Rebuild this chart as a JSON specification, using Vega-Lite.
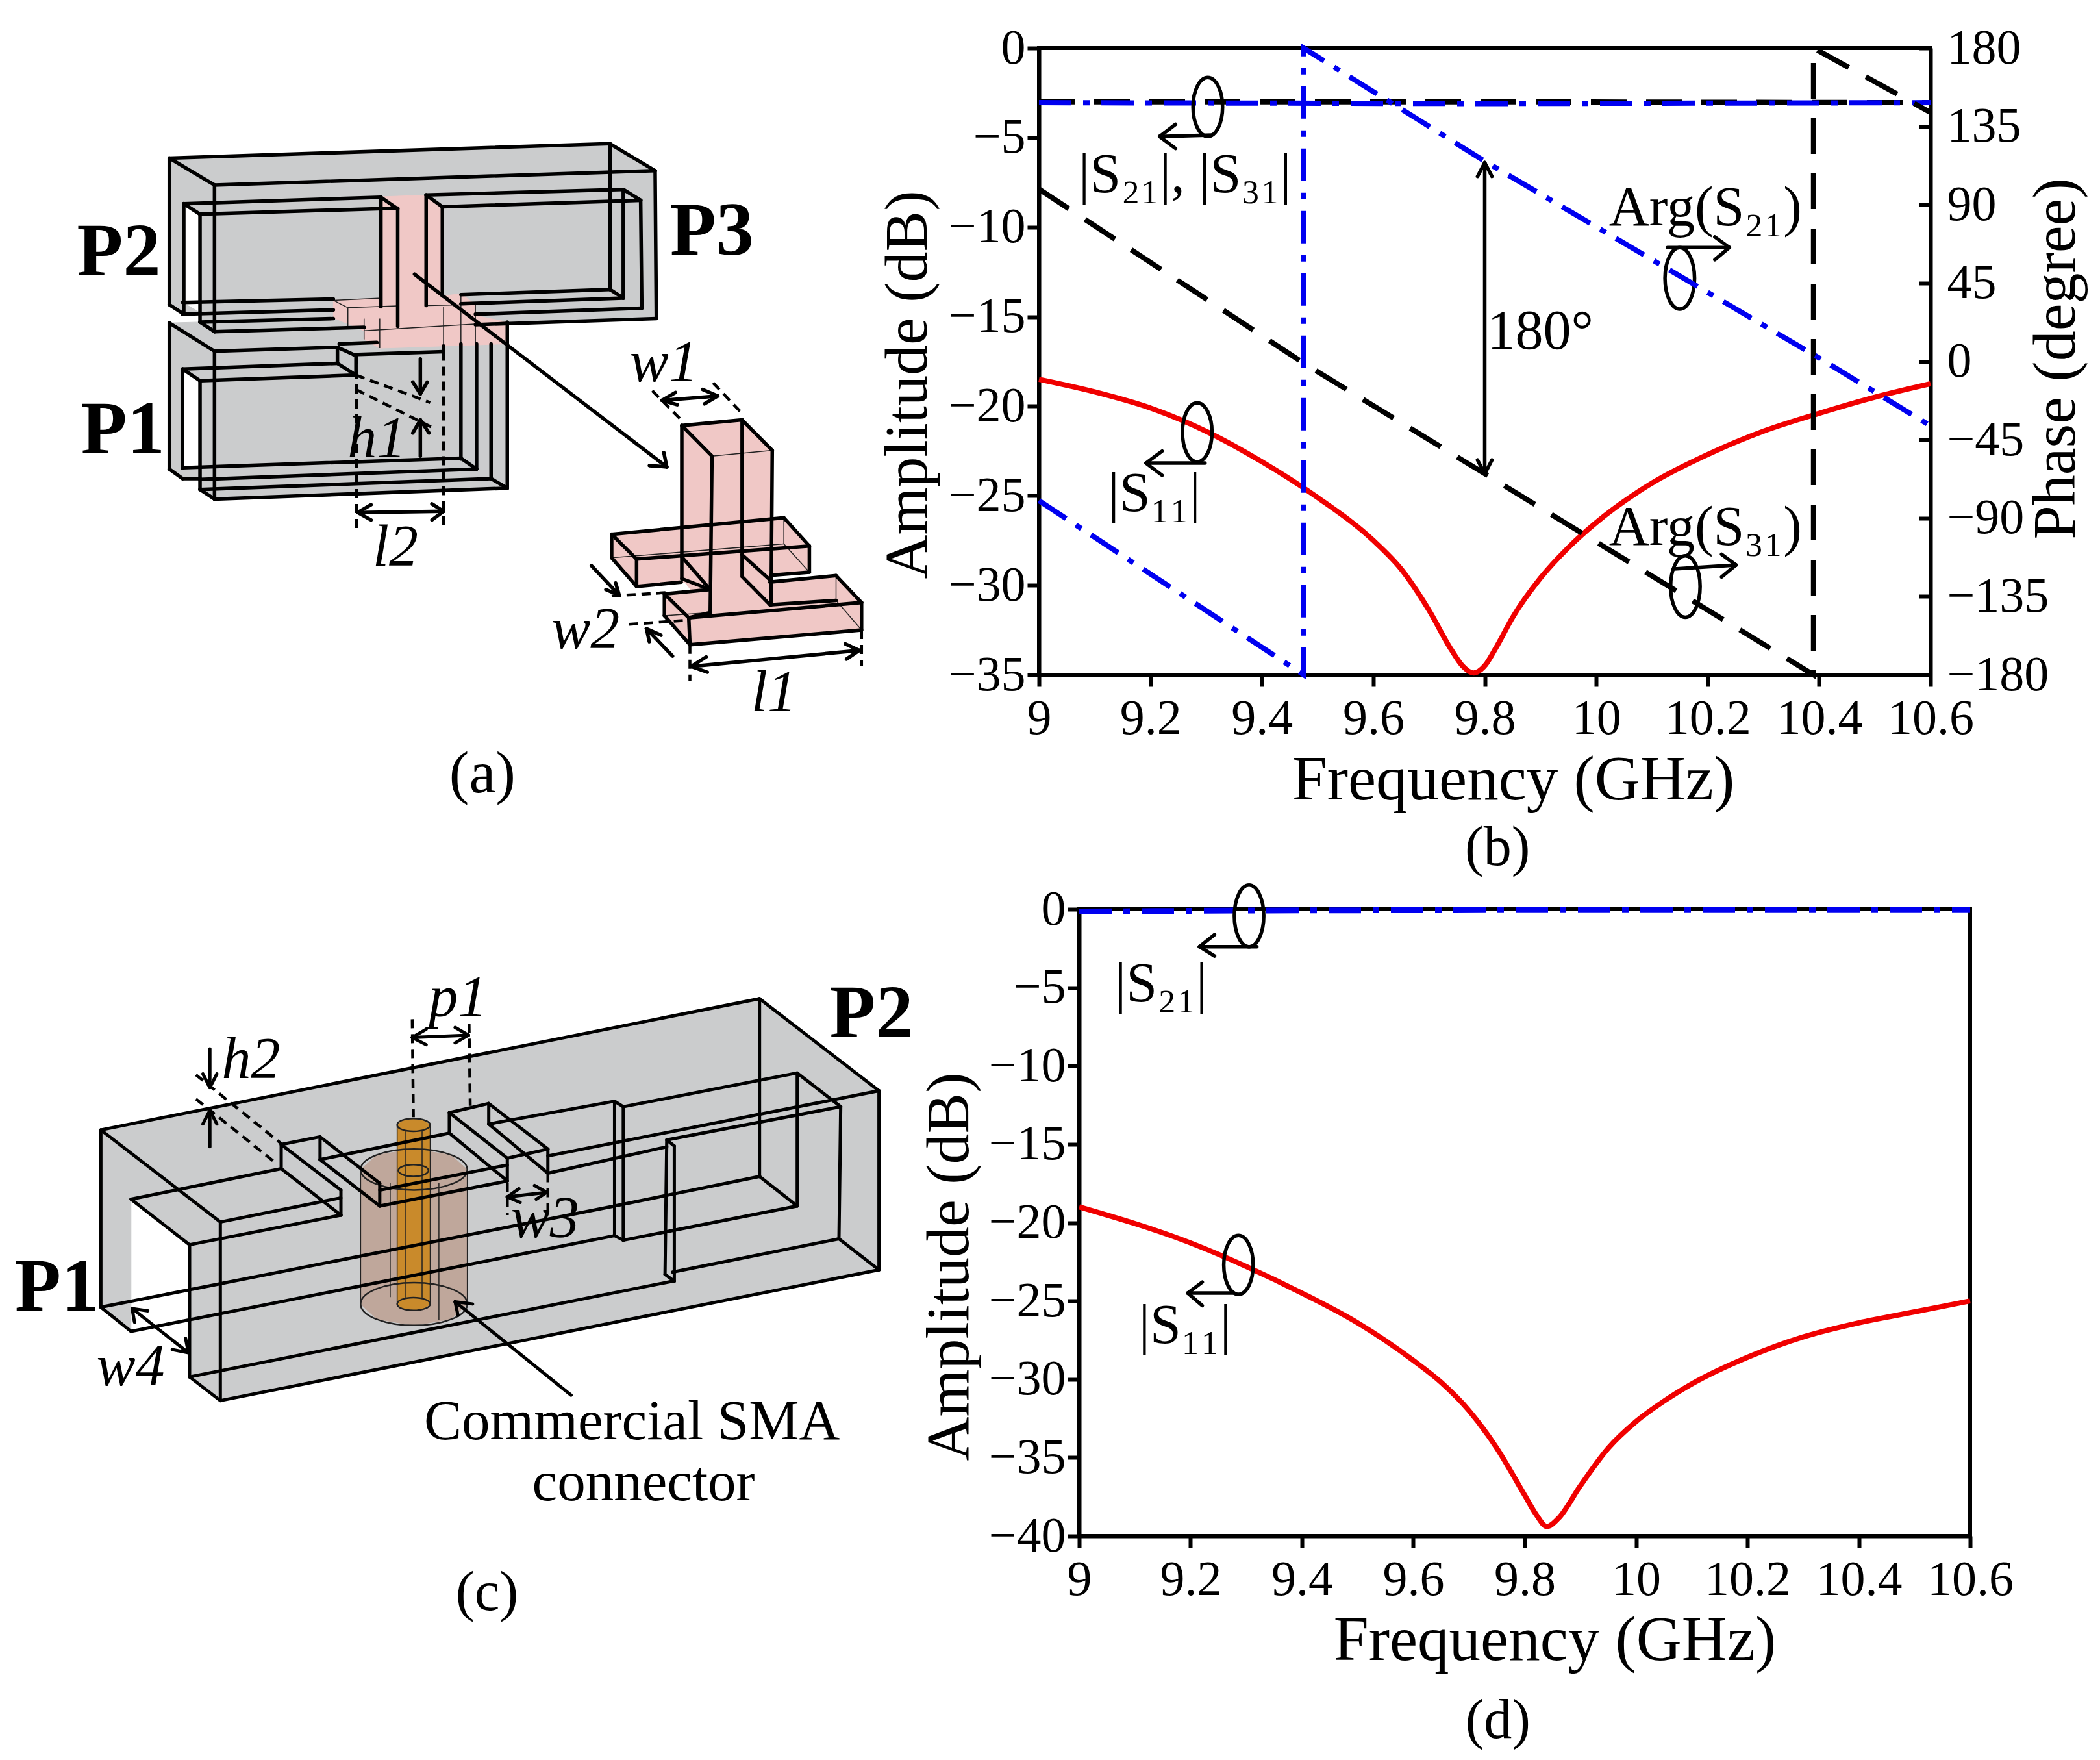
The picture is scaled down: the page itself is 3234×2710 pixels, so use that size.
{"$schema":"https://vega.github.io/schema/vega-lite/v6.json","background":"white","padding":{"left":0,"top":33,"right":0,"bottom":0},"bounds":"flush","spacing":1326,
"config":{"view":{"stroke":null},"font":"Liberation Serif","line":{"clip":false},"axis":{"grid":false,"domainColor":"black","domainWidth":6,"tickColor":"black","tickWidth":6,"labelColor":"black","titleColor":"black","labelFont":"Liberation Serif","titleFont":"Liberation Serif","titleFontWeight":"normal","labelOverlap":false,"labelFlush":false,"labelBound":false}},
"vconcat":[
{"bounds":"flush","spacing":100,"hconcat":[
{"width":1500,"height":965,"encoding":{"x":{"type":"quantitative","scale":{"domain":[0,1680],"nice":false,"zero":false},"axis":null},"y":{"type":"quantitative","scale":{"domain":[1281,-160],"nice":false,"zero":false},"axis":null}},
"layer":[
{"data":{"name":"a_gray"},"mark":{"type":"line","fill":"#cbcccd","stroke":"#cbcccd","strokeWidth":1},"encoding":{"x":{"field":"x","type":"quantitative"},"y":{"field":"y","type":"quantitative"},"detail":{"field":"id"},"order":{"field":"i"}}},
{"data":{"name":"a_white"},"mark":{"type":"line","fill":"white","stroke":"white","strokeWidth":1},"encoding":{"x":{"field":"x","type":"quantitative"},"y":{"field":"y","type":"quantitative"},"detail":{"field":"id"},"order":{"field":"i"}}},
{"data":{"name":"a_pink"},"mark":{"type":"line","fill":"#f0c8c6","stroke":"#f0c8c6","strokeWidth":1},"encoding":{"x":{"field":"x","type":"quantitative"},"y":{"field":"y","type":"quantitative"},"detail":{"field":"id"},"order":{"field":"i"}}},
{"data":{"name":"a_thin"},"mark":{"type":"rule","color":"#222","strokeWidth":1.5},"encoding":{"x":{"field":"x","type":"quantitative"},"y":{"field":"y","type":"quantitative"},"x2":{"field":"x2"},"y2":{"field":"y2"}}},
{"data":{"name":"a_thick"},"mark":{"type":"rule","color":"black","strokeWidth":5.5,"strokeCap":"round"},"encoding":{"x":{"field":"x","type":"quantitative"},"y":{"field":"y","type":"quantitative"},"x2":{"field":"x2"},"y2":{"field":"y2"}}},
{"data":{"name":"a_dash"},"mark":{"type":"rule","color":"black","strokeWidth":4.5,"strokeDash":[14,9]},"encoding":{"x":{"field":"x","type":"quantitative"},"y":{"field":"y","type":"quantitative"},"x2":{"field":"x2"},"y2":{"field":"y2"}}},
{"data":{"name":"a_bold"},"mark":{"type":"text","fontSize":116,"fontWeight":"bold","font":"Liberation Serif","baseline":"middle"},"encoding":{"x":{"field":"x","type":"quantitative"},"y":{"field":"y","type":"quantitative"},"text":{"field":"t"}}},
{"data":{"name":"a_italic"},"mark":{"type":"text","fontSize":90,"fontStyle":"italic","font":"Liberation Serif","baseline":"middle"},"encoding":{"x":{"field":"x","type":"quantitative"},"y":{"field":"y","type":"quantitative"},"text":{"field":"t"}}},
{"data":{"name":"a_plain"},"mark":{"type":"text","fontSize":92,"font":"Liberation Serif","baseline":"middle"},"encoding":{"x":{"field":"x","type":"quantitative"},"y":{"field":"y","type":"quantitative"},"text":{"field":"t"}}}
]},
{"width":1373,"height":965,"view":{"stroke":"black","strokeWidth":6},"resolve":{"scale":{"y":"independent"}},
"layer":[
{"encoding":{"x":{"type":"quantitative","scale":{"domain":[9,10.6],"nice":false,"zero":false},"axis":{"values":[9,9.2,9.4,9.6,9.8,10,10.2,10.4,10.6],"format":".1~f","labelFontSize":76,"labelPadding":12,"tickSize":18,"title":"Frequency (GHz)","titleFontSize":97,"titleX":730,"titleY":162,"titleBaseline":"middle"}},"y":{"type":"quantitative","scale":{"domain":[-35,0],"nice":false,"zero":false},"axis":{"values":[0,-5,-10,-15,-20,-25,-30,-35],"format":"d","labelFontSize":76,"labelPadding":3,"tickSize":18,"title":"Amplitude (dB)","titleFontSize":94,"titleX":-202,"titleY":518,"titleBaseline":"middle","titleAngle":270}}},
"layer":[
{"data":{"name":"s11b"},"mark":{"type":"line","color":"#f00000","strokeWidth":8,"interpolate":"monotone"},"encoding":{"x":{"field":"f","type":"quantitative"},"y":{"field":"dB","type":"quantitative"}}},
{"data":{"name":"s31b"},"mark":{"type":"line","color":"black","strokeWidth":8,"strokeDash":[55,30]},"encoding":{"x":{"field":"f","type":"quantitative"},"y":{"field":"dB","type":"quantitative"}}},
{"data":{"name":"s21b"},"mark":{"type":"line","color":"#0000f0","strokeWidth":8,"strokeDash":[50,18,10,18]},"encoding":{"x":{"field":"f","type":"quantitative"},"y":{"field":"dB","type":"quantitative"}}},
{"data":{"name":"b_rings"},"mark":{"type":"line","color":"black","strokeWidth":5.5,"interpolate":"cardinal-closed","tension":-0.65},"encoding":{"x":{"field":"f","type":"quantitative"},"y":{"field":"dB","type":"quantitative"},"detail":{"field":"id"},"order":{"field":"i"}}},
{"data":{"name":"b_arrows"},"mark":{"type":"rule","color":"black","strokeWidth":5.5,"strokeCap":"round"},"encoding":{"x":{"field":"f","type":"quantitative"},"y":{"field":"dB","type":"quantitative"},"x2":{"field":"f2"},"y2":{"field":"dB2"}}},
{"data":{"name":"b_text"},"mark":{"type":"text","fontSize":86,"font":"Liberation Serif","baseline":"middle"},"encoding":{"x":{"field":"f","type":"quantitative"},"y":{"field":"dB","type":"quantitative"},"text":{"field":"t"}}}
]},
{"encoding":{"x":{"type":"quantitative","scale":{"domain":[9,10.6],"nice":false,"zero":false}},"y":{"type":"quantitative","scale":{"domain":[-180,180],"nice":false,"zero":false},"axis":{"orient":"right","values":[180,135,90,45,0,-45,-90,-135,-180],"format":"d","labelFontSize":76,"labelPadding":43,"tickSize":-18,"title":"Phase (degree)","titleFontSize":94,"titleX":193,"titleY":478,"titleBaseline":"middle","titleAngle":270}}},
"layer":[
{"data":{"name":"arg31"},"mark":{"type":"line","color":"black","strokeWidth":8,"strokeDash":[55,30]},"encoding":{"x":{"field":"f","type":"quantitative"},"y":{"field":"deg","type":"quantitative"},"order":{"field":"i"}}},
{"data":{"name":"arg21"},"mark":{"type":"line","color":"#0000f0","strokeWidth":8,"strokeDash":[50,18,10,18]},"encoding":{"x":{"field":"f","type":"quantitative"},"y":{"field":"deg","type":"quantitative"},"order":{"field":"i"}}}
]}
]}
]},
{"bounds":"flush","spacing":100,"hconcat":[
{"width":1562,"height":965,"encoding":{"x":{"type":"quantitative","scale":{"domain":[0,1749.4],"nice":false,"zero":false},"axis":null},"y":{"type":"quantitative","scale":{"domain":[1374,-1.4],"nice":false,"zero":false},"axis":null}},
"layer":[
{"data":{"name":"c_gray"},"mark":{"type":"line","fill":"#cbcccd","stroke":"#cbcccd","strokeWidth":1},"encoding":{"x":{"field":"x","type":"quantitative"},"y":{"field":"y","type":"quantitative"},"detail":{"field":"id"},"order":{"field":"i"}}},
{"data":{"name":"c_brown"},"mark":{"type":"line","fill":"#bfa79b","stroke":"#bfa79b","strokeWidth":1},"encoding":{"x":{"field":"x","type":"quantitative"},"y":{"field":"y","type":"quantitative"},"detail":{"field":"id"},"order":{"field":"i"}}},
{"data":{"name":"c_orange"},"mark":{"type":"line","fill":"#c98a2b","stroke":"#c98a2b","strokeWidth":1},"encoding":{"x":{"field":"x","type":"quantitative"},"y":{"field":"y","type":"quantitative"},"detail":{"field":"id"},"order":{"field":"i"}}},
{"data":{"name":"c_thin"},"mark":{"type":"rule","color":"#222","strokeWidth":1.5},"encoding":{"x":{"field":"x","type":"quantitative"},"y":{"field":"y","type":"quantitative"},"x2":{"field":"x2"},"y2":{"field":"y2"}}},
{"data":{"name":"c_rings"},"mark":{"type":"line","color":"#222","strokeWidth":2.5,"interpolate":"cardinal-closed","tension":-0.65},"encoding":{"x":{"field":"x","type":"quantitative"},"y":{"field":"y","type":"quantitative"},"detail":{"field":"id"},"order":{"field":"i"}}},
{"data":{"name":"c_thick"},"mark":{"type":"rule","color":"black","strokeWidth":5,"strokeCap":"round"},"encoding":{"x":{"field":"x","type":"quantitative"},"y":{"field":"y","type":"quantitative"},"x2":{"field":"x2"},"y2":{"field":"y2"}}},
{"data":{"name":"c_dash"},"mark":{"type":"rule","color":"black","strokeWidth":4.5,"strokeDash":[14,9]},"encoding":{"x":{"field":"x","type":"quantitative"},"y":{"field":"y","type":"quantitative"},"x2":{"field":"x2"},"y2":{"field":"y2"}}},
{"data":{"name":"c_bold"},"mark":{"type":"text","fontSize":116,"fontWeight":"bold","font":"Liberation Serif","baseline":"middle"},"encoding":{"x":{"field":"x","type":"quantitative"},"y":{"field":"y","type":"quantitative"},"text":{"field":"t"}}},
{"data":{"name":"c_italic"},"mark":{"type":"text","fontSize":90,"fontStyle":"italic","font":"Liberation Serif","baseline":"middle"},"encoding":{"x":{"field":"x","type":"quantitative"},"y":{"field":"y","type":"quantitative"},"text":{"field":"t"}}},
{"data":{"name":"c_plain"},"mark":{"type":"text","fontSize":87,"font":"Liberation Serif","baseline":"middle"},"encoding":{"x":{"field":"x","type":"quantitative"},"y":{"field":"y","type":"quantitative"},"text":{"field":"t"}}}
]},
{"width":1372,"height":965,"view":{"stroke":"black","strokeWidth":6},
"encoding":{"x":{"type":"quantitative","scale":{"domain":[9,10.6],"nice":false,"zero":false},"axis":{"values":[9,9.2,9.4,9.6,9.8,10,10.2,10.4,10.6],"format":".1~f","labelFontSize":76,"labelPadding":12,"tickSize":18,"title":"Frequency (GHz)","titleFontSize":97,"titleX":732,"titleY":161,"titleBaseline":"middle"}},"y":{"type":"quantitative","scale":{"domain":[-40,0],"nice":false,"zero":false},"axis":{"values":[0,-5,-10,-15,-20,-25,-30,-35,-40],"format":"d","labelFontSize":76,"labelPadding":3,"tickSize":18,"title":"Amplitude (dB)","titleFontSize":94,"titleX":-200,"titleY":550,"titleBaseline":"middle","titleAngle":270}}},
"layer":[
{"data":{"name":"s11d"},"mark":{"type":"line","color":"#f00000","strokeWidth":8,"interpolate":"monotone"},"encoding":{"x":{"field":"f","type":"quantitative"},"y":{"field":"dB","type":"quantitative"}}},
{"data":{"name":"s21d"},"mark":{"type":"line","color":"#0000f0","strokeWidth":9,"strokeDash":[50,18,10,18]},"encoding":{"x":{"field":"f","type":"quantitative"},"y":{"field":"dB","type":"quantitative"}}},
{"data":{"name":"d_rings"},"mark":{"type":"line","color":"black","strokeWidth":5.5,"interpolate":"cardinal-closed","tension":-0.65},"encoding":{"x":{"field":"f","type":"quantitative"},"y":{"field":"dB","type":"quantitative"},"detail":{"field":"id"},"order":{"field":"i"}}},
{"data":{"name":"d_arrows"},"mark":{"type":"rule","color":"black","strokeWidth":5.5,"strokeCap":"round"},"encoding":{"x":{"field":"f","type":"quantitative"},"y":{"field":"dB","type":"quantitative"},"x2":{"field":"f2"},"y2":{"field":"dB2"}}},
{"data":{"name":"d_text"},"mark":{"type":"text","fontSize":86,"font":"Liberation Serif","baseline":"middle"},"encoding":{"x":{"field":"f","type":"quantitative"},"y":{"field":"dB","type":"quantitative"},"text":{"field":"t"}}}
]}
]}
],
"datasets":{
"s11b":[{"f":9,"dB":-18.5},{"f":9.1,"dB":-19.2},{"f":9.2,"dB":-20.1},{"f":9.3,"dB":-21.4},{"f":9.4,"dB":-23.1},{"f":9.5,"dB":-25.1},{"f":9.6,"dB":-27.5},{"f":9.65,"dB":-29.1},{"f":9.7,"dB":-31.4},{"f":9.74,"dB":-33.6},{"f":9.76,"dB":-34.5},{"f":9.78,"dB":-34.9},{"f":9.8,"dB":-34.5},{"f":9.82,"dB":-33.5},{"f":9.85,"dB":-31.8},{"f":9.9,"dB":-29.6},{"f":9.95,"dB":-27.9},{"f":10,"dB":-26.5},{"f":10.1,"dB":-24.3},{"f":10.2,"dB":-22.7},{"f":10.3,"dB":-21.4},{"f":10.4,"dB":-20.4},{"f":10.5,"dB":-19.5},{"f":10.6,"dB":-18.75}],
"s31b":[{"f":9,"dB":-3},{"f":9.8,"dB":-3},{"f":10.6,"dB":-3.05}],
"s21b":[{"f":9,"dB":-3.05},{"f":9.8,"dB":-3.1},{"f":10.6,"dB":-3.05}],
"arg31":[{"i":0,"f":9,"deg":99},{"i":1,"f":9.475,"deg":-1},{"i":2,"f":9.8,"deg":-64.5},{"i":3,"f":10.39,"deg":-180},{"i":4,"f":10.39,"deg":180},{"i":5,"f":10.6,"deg":143}],
"arg21":[{"i":0,"f":9,"deg":-80},{"i":1,"f":9.475,"deg":-180},{"i":2,"f":9.475,"deg":180},{"i":3,"f":9.8,"deg":115},{"i":4,"f":10.4,"deg":2},{"i":5,"f":10.6,"deg":-37}],
"b_rings":[{"id":"e1","i":0,"f":9.303,"dB":-1.64},{"id":"e1","i":1,"f":9.3295,"dB":-3.29},{"id":"e1","i":2,"f":9.303,"dB":-4.94},{"id":"e1","i":3,"f":9.2765,"dB":-3.29},{"id":"e2","i":0,"f":10.15,"dB":-11.14},{"id":"e2","i":1,"f":10.1765,"dB":-12.86},{"id":"e2","i":2,"f":10.15,"dB":-14.58},{"id":"e2","i":3,"f":10.1235,"dB":-12.86},{"id":"e3","i":0,"f":9.284,"dB":-19.81},{"id":"e3","i":1,"f":9.3105,"dB":-21.46},{"id":"e3","i":2,"f":9.284,"dB":-23.11},{"id":"e3","i":3,"f":9.2575,"dB":-21.46},{"id":"e4","i":0,"f":10.16,"dB":-28.35},{"id":"e4","i":1,"f":10.1865,"dB":-30.07},{"id":"e4","i":2,"f":10.16,"dB":-31.79},{"id":"e4","i":3,"f":10.1335,"dB":-30.07}],
"b_arrows":[{"f":9.31,"dB":-4.86,"f2":9.2165,"dB2":-4.94},{"f":9.2165,"dB":-4.94,"f2":9.245,"dB2":-4.26},{"f":9.2165,"dB":-4.94,"f2":9.245,"dB2":-5.61},{"f":10.128,"dB":-11.14,"f2":10.239,"dB2":-11.14},{"f":10.239,"dB":-11.14,"f2":10.213,"dB2":-10.55},{"f":10.239,"dB":-11.14,"f2":10.213,"dB2":-11.82},{"f":9.298,"dB":-23.18,"f2":9.192,"dB2":-23.18},{"f":9.192,"dB":-23.18,"f2":9.221,"dB2":-22.51},{"f":9.192,"dB":-23.18,"f2":9.221,"dB2":-23.86},{"f":10.14,"dB":-29.09,"f2":10.251,"dB2":-28.87},{"f":10.251,"dB":-28.87,"f2":10.225,"dB2":-28.27},{"f":10.251,"dB":-28.87,"f2":10.225,"dB2":-29.54},{"f":9.8,"dB":-6.4,"f2":9.8,"dB2":-23.78},{"f":9.8,"dB":-6.4,"f2":9.787,"dB2":-7.17},{"f":9.8,"dB":-6.4,"f2":9.813,"dB2":-7.17},{"f":9.8,"dB":-23.78,"f2":9.787,"dB2":-23},{"f":9.8,"dB":-23.78,"f2":9.813,"dB2":-23}],
"b_text":[{"t":"|S₂₁|, |S₃₁|","f":9.262,"dB":-7.1},{"t":"Arg(S₂₁)","f":10.196,"dB":-8.97},{"t":"180°","f":9.9,"dB":-15.86},{"t":"|S₁₁|","f":9.207,"dB":-24.9},{"t":"Arg(S₃₁)","f":10.196,"dB":-26.8},{"t":"(b)","f":9.823,"dB":-44.7}],
"s11d":[{"f":9,"dB":-19},{"f":9.2,"dB":-21.3},{"f":9.3,"dB":-22.8},{"f":9.4,"dB":-24.5},{"f":9.5,"dB":-26.4},{"f":9.6,"dB":-28.8},{"f":9.65,"dB":-30.2},{"f":9.7,"dB":-32},{"f":9.75,"dB":-34.4},{"f":9.8,"dB":-37.4},{"f":9.82,"dB":-38.6},{"f":9.84,"dB":-39.4},{"f":9.86,"dB":-38.9},{"f":9.9,"dB":-36.8},{"f":9.95,"dB":-34.4},{"f":10,"dB":-32.7},{"f":10.05,"dB":-31.4},{"f":10.1,"dB":-30.3},{"f":10.2,"dB":-28.6},{"f":10.3,"dB":-27.3},{"f":10.4,"dB":-26.4},{"f":10.5,"dB":-25.7},{"f":10.6,"dB":-25}],
"s21d":[{"f":9,"dB":-0.15},{"f":9.3,"dB":-0.08},{"f":9.8,"dB":-0.05},{"f":10.6,"dB":-0.05}],
"d_rings":[{"id":"e1","i":0,"f":9.305,"dB":1.54},{"id":"e1","i":1,"f":9.3314,"dB":-0.43},{"id":"e1","i":2,"f":9.305,"dB":-2.4},{"id":"e1","i":3,"f":9.2786,"dB":-0.43},{"id":"e2","i":0,"f":9.286,"dB":-20.82},{"id":"e2","i":1,"f":9.3124,"dB":-22.7},{"id":"e2","i":2,"f":9.286,"dB":-24.58},{"id":"e2","i":3,"f":9.2596,"dB":-22.7}],
"d_arrows":[{"f":9.319,"dB":-2.39,"f2":9.216,"dB2":-2.39},{"f":9.216,"dB":-2.39,"f2":9.243,"dB2":-1.62},{"f":9.216,"dB":-2.39,"f2":9.243,"dB2":-2.99},{"f":9.276,"dB":-24.5,"f2":9.195,"dB2":-24.5},{"f":9.195,"dB":-24.5,"f2":9.221,"dB2":-23.8},{"f":9.195,"dB":-24.5,"f2":9.221,"dB2":-25.3}],
"d_text":[{"t":"|S₂₁|","f":9.147,"dB":-4.79},{"t":"|S₁₁|","f":9.19,"dB":-26.6},{"t":"(d)","f":9.752,"dB":-51.8}],
"a_gray":[{"id":"u","i":0,"x":292,"y":93},{"id":"u","i":1,"x":1052,"y":60},{"id":"u","i":2,"x":1130,"y":122},{"id":"u","i":3,"x":1132,"y":462},{"id":"u","i":4,"x":370,"y":495},{"id":"u","i":5,"x":345,"y":475},{"id":"u","i":6,"x":345,"y":447},{"id":"u","i":7,"x":315,"y":450},{"id":"u","i":8,"x":292,"y":430},{"id":"l","i":0,"x":292,"y":472},{"id":"l","i":1,"x":345,"y":470},{"id":"l","i":2,"x":875,"y":470},{"id":"l","i":3,"x":875,"y":852},{"id":"l","i":4,"x":370,"y":877},{"id":"l","i":5,"x":345,"y":855},{"id":"l","i":6,"x":345,"y":832},{"id":"l","i":7,"x":315,"y":830},{"id":"l","i":8,"x":292,"y":808}],
"a_white":[{"id":"w1","i":0,"x":317,"y":198},{"id":"w1","i":1,"x":343,"y":222},{"id":"w1","i":2,"x":343,"y":445},{"id":"w1","i":3,"x":317,"y":425},{"id":"w2","i":0,"x":315,"y":578},{"id":"w2","i":1,"x":343,"y":605},{"id":"w2","i":2,"x":343,"y":806},{"id":"w2","i":3,"x":315,"y":806}],
"a_pink":[{"id":"p1","i":0,"x":658,"y":182},{"id":"p1","i":1,"x":735,"y":178},{"id":"p1","i":2,"x":763,"y":205},{"id":"p1","i":3,"x":763,"y":410},{"id":"p1","i":4,"x":795,"y":405},{"id":"p1","i":5,"x":820,"y":430},{"id":"p1","i":6,"x":820,"y":455},{"id":"p1","i":7,"x":875,"y":470},{"id":"p1","i":8,"x":875,"y":520},{"id":"p1","i":9,"x":765,"y":525},{"id":"p1","i":10,"x":655,"y":530},{"id":"p1","i":11,"x":628,"y":510},{"id":"p1","i":12,"x":628,"y":490},{"id":"p1","i":13,"x":575,"y":460},{"id":"p1","i":14,"x":575,"y":420},{"id":"p1","i":15,"x":658,"y":415},{"id":"p2","i":0,"x":1176,"y":708},{"id":"p2","i":1,"x":1280,"y":695},{"id":"p2","i":2,"x":1332,"y":765},{"id":"p2","i":3,"x":1330,"y":1120},{"id":"p2","i":4,"x":1225,"y":1140},{"id":"p2","i":5,"x":1176,"y":1060},{"id":"p4","i":0,"x":1055,"y":958},{"id":"p4","i":1,"x":1352,"y":920},{"id":"p4","i":2,"x":1396,"y":985},{"id":"p4","i":3,"x":1396,"y":1045},{"id":"p4","i":4,"x":1098,"y":1078},{"id":"p4","i":5,"x":1055,"y":1012},{"id":"p3","i":0,"x":1146,"y":1095},{"id":"p3","i":1,"x":1225,"y":1085},{"id":"p3","i":2,"x":1282,"y":1058},{"id":"p3","i":3,"x":1328,"y":1068},{"id":"p3","i":4,"x":1442,"y":1053},{"id":"p3","i":5,"x":1486,"y":1115},{"id":"p3","i":6,"x":1486,"y":1178},{"id":"p3","i":7,"x":1190,"y":1212},{"id":"p3","i":8,"x":1146,"y":1145}],
"a_thin":[{"x":575,"y":420,"x2":658,"y2":415},{"x":575,"y":420,"x2":600,"y2":437},{"x":600,"y":437,"x2":686,"y2":433},{"x":600,"y":437,"x2":600,"y2":482},{"x":628,"y":462,"x2":628,"y2":510},{"x":655,"y":462,"x2":655,"y2":530},{"x":628,"y":490,"x2":875,"y2":470},{"x":736,"y":432,"x2":820,"y2":430},{"x":765,"y":435,"x2":765,"y2":530},{"x":795,"y":405,"x2":795,"y2":520},{"x":820,"y":430,"x2":820,"y2":520},{"x":1228,"y":778,"x2":1332,"y2":765},{"x":1055,"y":1012,"x2":1352,"y2":980},{"x":1352,"y":980,"x2":1396,"y2":1045},{"x":1352,"y":920,"x2":1352,"y2":980},{"x":1146,"y":1145,"x2":1225,"y2":1138},{"x":1442,"y":1053,"x2":1442,"y2":1110},{"x":1442,"y":1110,"x2":1486,"y2":1178},{"x":1188,"y":1150,"x2":1486,"y2":1115}],
"a_thick":[{"x":292,"y":93,"x2":1052,"y2":60},{"x":1052,"y":60,"x2":1130,"y2":122},{"x":1130,"y":122,"x2":370,"y2":155},{"x":370,"y":155,"x2":292,"y2":93},{"x":292,"y":93,"x2":292,"y2":430},{"x":292,"y":430,"x2":315,"y2":450},{"x":370,"y":155,"x2":370,"y2":492},{"x":370,"y":492,"x2":345,"y2":470},{"x":345,"y":470,"x2":345,"y2":222},{"x":1130,"y":122,"x2":1132,"y2":462},{"x":1132,"y":462,"x2":820,"y2":476},{"x":1052,"y":60,"x2":1052,"y2":395},{"x":317,"y":198,"x2":657,"y2":183},{"x":317,"y":198,"x2":317,"y2":450},{"x":317,"y":198,"x2":345,"y2":222},{"x":345,"y":222,"x2":686,"y2":208},{"x":657,"y":183,"x2":686,"y2":210},{"x":686,"y":210,"x2":686,"y2":480},{"x":657,"y":183,"x2":657,"y2":435},{"x":735,"y":178,"x2":1075,"y2":165},{"x":1075,"y":165,"x2":1105,"y2":190},{"x":1105,"y":190,"x2":763,"y2":205},{"x":763,"y":205,"x2":735,"y2":178},{"x":1075,"y":165,"x2":1075,"y2":415},{"x":1105,"y":190,"x2":1107,"y2":438},{"x":1107,"y":438,"x2":820,"y2":452},{"x":735,"y":178,"x2":735,"y2":432},{"x":763,"y":205,"x2":763,"y2":410},{"x":1052,"y":395,"x2":795,"y2":407},{"x":1075,"y":415,"x2":795,"y2":428},{"x":1052,"y":395,"x2":1075,"y2":415},{"x":315,"y":425,"x2":575,"y2":417},{"x":315,"y":452,"x2":575,"y2":442},{"x":345,"y":470,"x2":575,"y2":462},{"x":370,"y":492,"x2":628,"y2":482},{"x":292,"y":472,"x2":370,"y2":537},{"x":370,"y":537,"x2":582,"y2":528},{"x":582,"y":528,"x2":582,"y2":565},{"x":370,"y":537,"x2":370,"y2":877},{"x":370,"y":877,"x2":345,"y2":855},{"x":345,"y":855,"x2":345,"y2":605},{"x":345,"y":605,"x2":315,"y2":578},{"x":315,"y":578,"x2":582,"y2":565},{"x":582,"y":565,"x2":614,"y2":592},{"x":614,"y":592,"x2":345,"y2":605},{"x":292,"y":472,"x2":292,"y2":808},{"x":292,"y":808,"x2":315,"y2":830},{"x":315,"y":830,"x2":345,"y2":830},{"x":315,"y":578,"x2":315,"y2":806},{"x":582,"y":528,"x2":610,"y2":545},{"x":610,"y":545,"x2":765,"y2":538},{"x":765,"y":538,"x2":765,"y2":525},{"x":614,"y":545,"x2":614,"y2":592},{"x":585,"y":520,"x2":650,"y2":517},{"x":315,"y":805,"x2":795,"y2":783},{"x":795,"y":783,"x2":822,"y2":808},{"x":822,"y":808,"x2":345,"y2":832},{"x":795,"y":520,"x2":795,"y2":785},{"x":822,"y":520,"x2":822,"y2":808},{"x":847,"y":520,"x2":847,"y2":830},{"x":847,"y":830,"x2":875,"y2":852},{"x":875,"y":470,"x2":875,"y2":852},{"x":875,"y":852,"x2":370,"y2":877},{"x":345,"y":855,"x2":847,"y2":830},{"x":725,"y":555,"x2":725,"y2":635},{"x":712,"y":608,"x2":725,"y2":635},{"x":737,"y":608,"x2":725,"y2":635},{"x":725,"y":778,"x2":725,"y2":695},{"x":712,"y":725,"x2":725,"y2":695},{"x":740,"y":725,"x2":725,"y2":695},{"x":617,"y":908,"x2":765,"y2":905},{"x":640,"y":890,"x2":617,"y2":908},{"x":640,"y":925,"x2":617,"y2":908},{"x":745,"y":888,"x2":765,"y2":905},{"x":745,"y":925,"x2":765,"y2":905},{"x":715,"y":360,"x2":1150,"y2":803},{"x":1120,"y":800,"x2":1150,"y2":803},{"x":1145,"y":770,"x2":1150,"y2":803},{"x":1176,"y":708,"x2":1280,"y2":695},{"x":1280,"y":695,"x2":1332,"y2":765},{"x":1176,"y":708,"x2":1228,"y2":778},{"x":1176,"y":708,"x2":1176,"y2":1060},{"x":1228,"y":778,"x2":1225,"y2":1140},{"x":1280,"y":695,"x2":1280,"y2":1055},{"x":1332,"y":765,"x2":1330,"y2":1120},{"x":1055,"y":958,"x2":1352,"y2":920},{"x":1352,"y":920,"x2":1396,"y2":985},{"x":1396,"y":985,"x2":1098,"y2":1015},{"x":1098,"y":1015,"x2":1055,"y2":958},{"x":1098,"y":1015,"x2":1098,"y2":1078},{"x":1098,"y":1078,"x2":1175,"y2":1068},{"x":1055,"y":958,"x2":1055,"y2":1012},{"x":1055,"y":1012,"x2":1098,"y2":1078},{"x":1396,"y":985,"x2":1396,"y2":1045},{"x":1396,"y":1045,"x2":1330,"y2":1052},{"x":1176,"y":1010,"x2":1225,"y2":1085},{"x":1176,"y":1060,"x2":1225,"y2":1085},{"x":1146,"y":1095,"x2":1225,"y2":1085},{"x":1146,"y":1095,"x2":1188,"y2":1150},{"x":1225,"y":1138,"x2":1188,"y2":1150},{"x":1282,"y":1058,"x2":1328,"y2":1120},{"x":1280,"y":1005,"x2":1330,"y2":1065},{"x":1328,"y":1120,"x2":1442,"y2":1110},{"x":1328,"y":1068,"x2":1442,"y2":1053},{"x":1442,"y":1053,"x2":1486,"y2":1115},{"x":1486,"y":1115,"x2":1188,"y2":1150},{"x":1190,"y":1212,"x2":1486,"y2":1178},{"x":1486,"y":1115,"x2":1486,"y2":1178},{"x":1188,"y":1150,"x2":1190,"y2":1212},{"x":1146,"y":1095,"x2":1146,"y2":1145},{"x":1146,"y":1145,"x2":1190,"y2":1212},{"x":1142,"y":650,"x2":1238,"y2":640},{"x":1142,"y":650,"x2":1165,"y2":632},{"x":1142,"y":650,"x2":1168,"y2":660},{"x":1238,"y":640,"x2":1212,"y2":625},{"x":1238,"y":640,"x2":1215,"y2":658},{"x":1192,"y":1262,"x2":1482,"y2":1225},{"x":1192,"y":1262,"x2":1218,"y2":1240},{"x":1192,"y":1262,"x2":1220,"y2":1275},{"x":1482,"y":1225,"x2":1458,"y2":1210},{"x":1482,"y":1225,"x2":1460,"y2":1245},{"x":1020,"y":1030,"x2":1068,"y2":1098},{"x":1068,"y":1098,"x2":1045,"y2":1085},{"x":1068,"y":1098,"x2":1062,"y2":1070},{"x":1160,"y":1238,"x2":1115,"y2":1175},{"x":1115,"y":1175,"x2":1120,"y2":1205},{"x":1115,"y":1175,"x2":1140,"y2":1190}],
"a_dash":[{"x":614,"y":592,"x2":742,"y2":655},{"x":614,"y":625,"x2":745,"y2":712},{"x":615,"y":545,"x2":615,"y2":945},{"x":765,"y":538,"x2":765,"y2":940},{"x":1125,"y":628,"x2":1175,"y2":695},{"x":1230,"y":610,"x2":1280,"y2":680},{"x":1190,"y":1212,"x2":1190,"y2":1295},{"x":1486,"y":1178,"x2":1486,"y2":1260},{"x":1055,"y":1100,"x2":1150,"y2":1092},{"x":1085,"y":1165,"x2":1190,"y2":1155}],
"a_bold":[{"t":"P2","x":205,"y":310},{"t":"P3","x":1228,"y":262},{"t":"P1","x":212,"y":720}],
"a_italic":[{"t":"h1","x":650,"y":740},{"t":"l2","x":682,"y":990},{"t":"w1","x":1145,"y":565},{"t":"w2","x":1010,"y":1180},{"t":"l1","x":1335,"y":1325}],
"a_plain":[{"t":"(a)","x":832,"y":1510}],
"c_gray":[{"id":"g","i":0,"x":174,"y":483},{"id":"g","i":1,"x":1310,"y":195},{"id":"g","i":2,"x":1516,"y":397},{"id":"g","i":3,"x":1516,"y":790},{"id":"g","i":4,"x":380,"y":1077},{"id":"g","i":5,"x":327,"y":1025},{"id":"g","i":6,"x":327,"y":735},{"id":"g","i":7,"x":226,"y":635},{"id":"g","i":8,"x":226,"y":925},{"id":"g","i":9,"x":174,"y":872}],
"c_brown":[{"id":"b","i":0,"x":622,"y":570},{"id":"b","i":1,"x":650,"y":538},{"id":"b","i":2,"x":714,"y":525},{"id":"b","i":3,"x":778,"y":538},{"id":"b","i":4,"x":806,"y":570},{"id":"b","i":5,"x":806,"y":865},{"id":"b","i":6,"x":778,"y":898},{"id":"b","i":7,"x":714,"y":912},{"id":"b","i":8,"x":650,"y":898},{"id":"b","i":9,"x":622,"y":865}],
"c_orange":[{"id":"o","i":0,"x":685,"y":472},{"id":"o","i":1,"x":695,"y":462},{"id":"o","i":2,"x":713,"y":458},{"id":"o","i":3,"x":731,"y":462},{"id":"o","i":4,"x":742,"y":472},{"id":"o","i":5,"x":742,"y":865},{"id":"o","i":6,"x":731,"y":875},{"id":"o","i":7,"x":713,"y":879},{"id":"o","i":8,"x":695,"y":875},{"id":"o","i":9,"x":685,"y":865}],
"c_rings":[{"id":"t","i":0,"x":714,"y":525},{"id":"t","i":1,"x":806,"y":570},{"id":"t","i":2,"x":714,"y":615},{"id":"t","i":3,"x":622,"y":570},{"id":"b","i":0,"x":714,"y":818},{"id":"b","i":1,"x":806,"y":865},{"id":"b","i":2,"x":714,"y":912},{"id":"b","i":3,"x":622,"y":865},{"id":"m","i":0,"x":713,"y":559},{"id":"m","i":1,"x":739,"y":572},{"id":"m","i":2,"x":713,"y":585},{"id":"m","i":3,"x":687,"y":572},{"id":"it","i":0,"x":713,"y":458},{"id":"it","i":1,"x":742,"y":472},{"id":"it","i":2,"x":713,"y":486},{"id":"it","i":3,"x":685,"y":472},{"id":"ib","i":0,"x":713,"y":851},{"id":"ib","i":1,"x":742,"y":865},{"id":"ib","i":2,"x":713,"y":879},{"id":"ib","i":3,"x":685,"y":865}],
"c_thin":[{"x":622,"y":570,"x2":622,"y2":865},{"x":806,"y":570,"x2":806,"y2":865},{"x":673,"y":600,"x2":673,"y2":850},{"x":757,"y":600,"x2":757,"y2":900},{"x":700,"y":486,"x2":700,"y2":851},{"x":728,"y":486,"x2":728,"y2":851},{"x":685,"y":472,"x2":685,"y2":865},{"x":742,"y":472,"x2":742,"y2":865}],
"c_thick":[{"x":174,"y":483,"x2":1310,"y2":195},{"x":1310,"y":195,"x2":1516,"y2":397},{"x":1516,"y":397,"x2":945,"y2":540},{"x":875,"y":560,"x2":655,"y2":615},{"x":588,"y":632,"x2":380,"y2":685},{"x":380,"y":685,"x2":174,"y2":483},{"x":174,"y":483,"x2":174,"y2":872},{"x":174,"y":872,"x2":226,"y2":925},{"x":174,"y":872,"x2":1060,"y2":650},{"x":226,"y":925,"x2":1060,"y2":715},{"x":327,"y":1025,"x2":1160,"y2":815},{"x":380,"y":1077,"x2":1516,"y2":790},{"x":380,"y":685,"x2":380,"y2":1077},{"x":380,"y":1077,"x2":327,"y2":1025},{"x":327,"y":1025,"x2":327,"y2":735},{"x":1516,"y":397,"x2":1516,"y2":790},{"x":1310,"y":195,"x2":1310,"y2":585},{"x":1310,"y":585,"x2":1060,"y2":650},{"x":1375,"y":358,"x2":1375,"y2":650},{"x":1375,"y":650,"x2":1075,"y2":725},{"x":1075,"y":725,"x2":1060,"y2":715},{"x":1060,"y":715,"x2":1060,"y2":420},{"x":1060,"y":420,"x2":843,"y2":470},{"x":1060,"y":420,"x2":1075,"y2":432},{"x":1075,"y":432,"x2":1375,"y2":358},{"x":1375,"y":358,"x2":1450,"y2":432},{"x":1450,"y":432,"x2":1150,"y2":505},{"x":1150,"y":505,"x2":1147,"y2":800},{"x":1310,"y":585,"x2":1375,"y2":650},{"x":1450,"y":432,"x2":1447,"y2":722},{"x":1447,"y":722,"x2":1160,"y2":795},{"x":1447,"y":722,"x2":1516,"y2":790},{"x":1075,"y":432,"x2":1075,"y2":725},{"x":1150,"y":505,"x2":1163,"y2":518},{"x":1163,"y":518,"x2":1163,"y2":815},{"x":1163,"y":815,"x2":1147,"y2":800},{"x":1150,"y":520,"x2":945,"y2":578},{"x":226,"y":635,"x2":485,"y2":568},{"x":226,"y":635,"x2":327,"y2":735},{"x":327,"y":735,"x2":588,"y2":670},{"x":485,"y":568,"x2":588,"y2":670},{"x":485,"y":568,"x2":485,"y2":515},{"x":485,"y":515,"x2":552,"y2":498},{"x":552,"y":498,"x2":655,"y2":600},{"x":552,"y":498,"x2":552,"y2":548},{"x":552,"y":548,"x2":655,"y2":650},{"x":485,"y":515,"x2":588,"y2":615},{"x":588,"y":615,"x2":588,"y2":670},{"x":655,"y":600,"x2":655,"y2":650},{"x":655,"y":650,"x2":875,"y2":595},{"x":875,"y":595,"x2":875,"y2":545},{"x":875,"y":545,"x2":775,"y2":445},{"x":775,"y":445,"x2":843,"y2":425},{"x":843,"y":425,"x2":945,"y2":525},{"x":945,"y":525,"x2":945,"y2":578},{"x":945,"y":525,"x2":875,"y2":545},{"x":775,"y":445,"x2":775,"y2":490},{"x":775,"y":490,"x2":875,"y2":595},{"x":843,"y":425,"x2":843,"y2":470},{"x":843,"y":470,"x2":945,"y2":578},{"x":552,"y":548,"x2":775,"y2":490},{"x":711,"y":280,"x2":808,"y2":275},{"x":711,"y":280,"x2":735,"y2":262},{"x":711,"y":280,"x2":735,"y2":296},{"x":808,"y":275,"x2":785,"y2":258},{"x":808,"y":275,"x2":785,"y2":292},{"x":875,"y":630,"x2":943,"y2":620},{"x":875,"y":630,"x2":895,"y2":612},{"x":875,"y":630,"x2":897,"y2":642},{"x":943,"y":620,"x2":922,"y2":605},{"x":943,"y":620,"x2":925,"y2":635},{"x":362,"y":305,"x2":362,"y2":390},{"x":350,"y":360,"x2":362,"y2":390},{"x":374,"y":360,"x2":362,"y2":390},{"x":362,"y":520,"x2":362,"y2":440},{"x":350,"y":470,"x2":362,"y2":440},{"x":374,"y":470,"x2":362,"y2":440},{"x":228,"y":875,"x2":325,"y2":972},{"x":228,"y":875,"x2":232,"y2":905},{"x":228,"y":875,"x2":255,"y2":880},{"x":325,"y":972,"x2":297,"y2":965},{"x":325,"y":972,"x2":320,"y2":940},{"x":985,"y":1065,"x2":785,"y2":860},{"x":785,"y":860,"x2":790,"y2":890},{"x":785,"y":860,"x2":815,"y2":865}],
"c_dash":[{"x":338,"y":362,"x2":487,"y2":515},{"x":338,"y":415,"x2":475,"y2":555},{"x":711,"y":240,"x2":713,"y2":455},{"x":809,"y":250,"x2":811,"y2":430},{"x":875,"y":600,"x2":875,"y2":670},{"x":945,"y":578,"x2":945,"y2":660}],
"c_bold":[{"t":"P1","x":98,"y":830},{"t":"P2","x":1503,"y":230}],
"c_italic":[{"t":"h2","x":433,"y":330},{"t":"p1","x":790,"y":195},{"t":"w3","x":940,"y":680},{"t":"w4","x":225,"y":1005}],
"c_plain":[{"t":"Commercial SMA","x":1090,"y":1125},{"t":"connector","x":1110,"y":1258},{"t":"(c)","x":840,"y":1500}]
}}
